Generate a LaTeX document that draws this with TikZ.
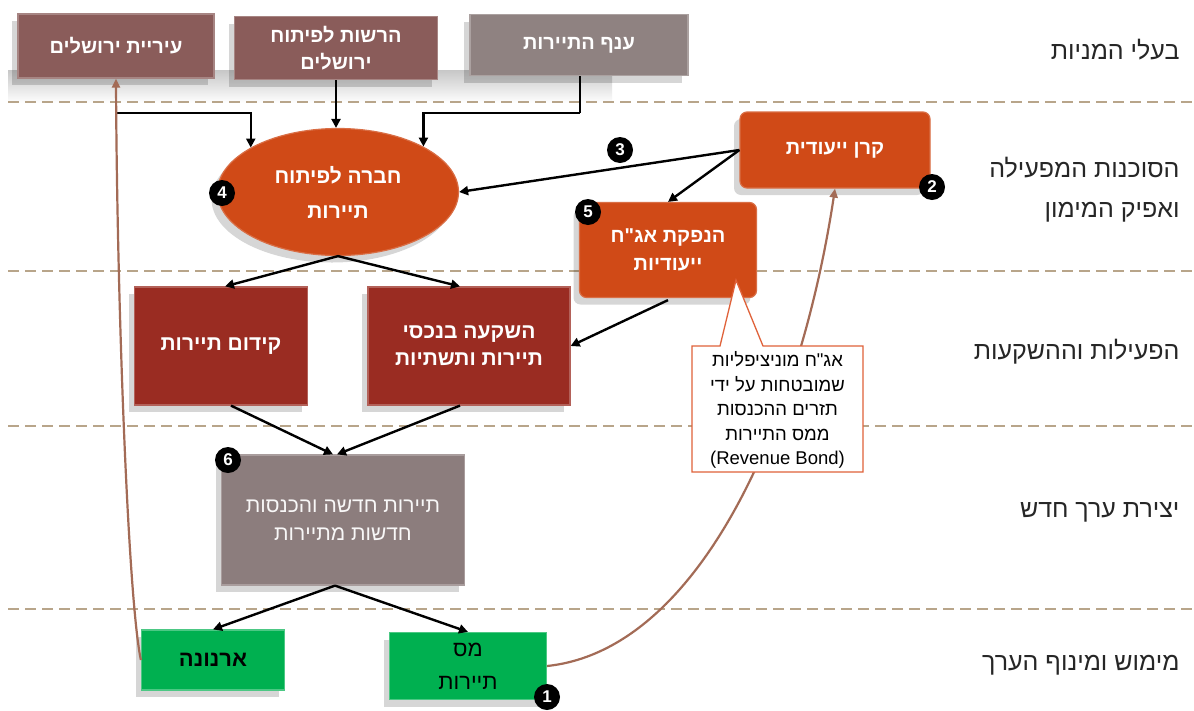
\documentclass[tikz,border=0pt]{standalone}
\usepackage{fontspec}
\setmainfont{Liberation Sans}
\newfontfamily\heb[Script=Hebrew]{Liberation Sans}
\TeXXeTstate=1
\usetikzlibrary{arrows.meta,shapes.geometric,shadows}
\newcommand\hb[1]{\beginR #1\endR}
\definecolor{cityc}{HTML}{8A5C5A}
\definecolor{anafc}{HTML}{8F8281}
\definecolor{orangec}{HTML}{D04A17}
\definecolor{redc}{HTML}{9A2C22}
\definecolor{grayc}{HTML}{8C7D7D}
\definecolor{greenc}{HTML}{00B050}
\definecolor{dashc}{HTML}{B8A58A}
\definecolor{brownc}{HTML}{A36B56}
\definecolor{calloutc}{HTML}{E0623A}
\tikzset{
  shad/.style={drop shadow={shadow xshift=-6pt,shadow yshift=-7pt,opacity=0.16,fill=black}},
  boxbase/.style={rectangle,inner sep=2pt,align=center,text=white,shad},
  topbox/.style={boxbase,fill=#1,draw=#1!75!white,line width=1.2pt,font=\heb\bfseries\fontsize{20}{27}\selectfont},
  orbox/.style={boxbase,fill=orangec,draw=orangec!80!white,line width=1.2pt,rounded corners=7pt,font=\heb\bfseries\fontsize{20}{28}\selectfont},
  redbox/.style={boxbase,fill=redc,draw=redc!75!white,line width=1.2pt,font=\heb\bfseries\fontsize{21}{27}\selectfont},
  graybox/.style={boxbase,fill=grayc,draw=grayc!75!white,line width=1.2pt,text=white!94!grayc,font=\heb\fontsize{21}{28}\selectfont},
  greenbox/.style={boxbase,fill=greenc,draw=greenc!70!white,line width=1.2pt,text=black},
  badge/.style={circle,fill=black,text=white,inner sep=0pt,minimum size=26pt,font=\heb\bfseries\fontsize{17}{17}\selectfont},
  lane/.style={anchor=east,align=right,font=\heb\fontsize{25}{40}\selectfont,text=black!85},
  sep/.style={dashc,line width=1.6pt,dash pattern=on 11pt off 6pt},
  arr/.style={line width=2.4pt,-{Triangle[length=9pt,width=9pt]}},
  barr/.style={brownc,line width=2.2pt,-{Triangle[length=9pt,width=8pt]}}
}
\begin{document}
\begin{tikzpicture}[x=1pt,y=-1pt]
\useasboundingbox (0,0) rectangle (1194,710);
\fill[white] (0,0) rectangle (1194,710);
\shade[top color=black!22,bottom color=white] (8,70) rectangle (612,103);
% lane separators
\foreach \yy in {102,271,426,609} \draw[sep] (8,\yy) -- (1194,\yy);
% lane labels
\node[lane] (l1) at (1183,50) {\hb{בעלי המניות}};
\node[lane] (l2) at (1183,190) {\hb{הסוכנות המפעילה}\\\hb{ואפיק המימון}};
\node[lane] (l3) at (1183,352) {\hb{הפעילות וההשקעות}};
\node[lane] (l4) at (1183,512) {\hb{יצירת ערך חדש}};
\node[lane] (l5) at (1183,665) {\hb{מימוש ומינוף הערך}};
% shareholders
\node[topbox=cityc,minimum width=196pt,minimum height=64pt] (city) at (116,46) {\hb{עיריית ירושלים}};
\node[topbox=cityc,minimum width=203pt,minimum height=63pt] (auth) at (336,48) {\hb{הרשות לפיתוח}\\\hb{ירושלים}};
\node[topbox=anafc,minimum width=218pt,minimum height=61pt] (anaf) at (579,45) {\hb{ענף התיירות}};
% operating agency
\node[ellipse,fill=orangec,draw=orangec!80!white,line width=1.2pt,shad,minimum width=241pt,minimum height=127pt,inner sep=0pt,align=center,text=white,font=\heb\bfseries\fontsize{21}{35}\selectfont] (ell) at (338,192) {\hb{חברה לפיתוח}\\\hb{תיירות}};
\node[orbox,minimum width=190pt,minimum height=76pt] (qeren) at (835,150) {\hb{קרן ייעודית}};
\node[orbox,minimum width=177pt,minimum height=95pt] (hanpaka) at (668,250) {\hb{הנפקת אג"ח}\\\hb{ייעודיות}};
% activities
\node[redbox,minimum width=173pt,minimum height=118pt] (kidum) at (221,346) {\hb{קידום תיירות}};
\node[redbox,minimum width=202pt,minimum height=118pt] (hashkaa) at (469,346) {\hb{השקעה בנכסי}\\\hb{תיירות ותשתיות}};
% new value
\node[graybox,minimum width=243pt,minimum height=130pt] (newtour) at (343,520) {\hb{תיירות חדשה והכנסות}\\\hb{חדשות מתיירות}};
% realization
\node[greenbox,minimum width=143pt,minimum height=60pt,font=\heb\bfseries\fontsize{22}{27}\selectfont] (arnona) at (213,660) {\hb{ארנונה}};
\node[greenbox,minimum width=157pt,minimum height=67pt,font=\heb\fontsize{22}{33}\selectfont] (mas) at (468,666) {\hb{מס}\\\hb{תיירות}};
% black connectors
\coordinate (cityj) at (117,113);
\coordinate (anafj) at (580,113);
\draw[arr] (cityj) -| (ell.153.7);
\draw[arr] (auth.south) -- (auth.south |- ell.north);
\draw[line width=2.4pt] (anaf.south -| anafj) -- (anafj);
\draw[arr] (anafj) -| (ell.28.4);
\draw[arr] (qeren.west) -- (ell.east);
\draw[arr] (qeren.west) -- (hanpaka.north);
\draw[arr] (ell.south) -- ([xshift=4pt]kidum.north);
\draw[arr] (ell.south) -- ([xshift=-9pt]hashkaa.north);
\draw[arr] ([yshift=-2pt]hanpaka.south) -- (hashkaa.east);
\draw[arr] ([xshift=10pt]kidum.south) -- ([xshift=-10pt]newtour.north);
\draw[arr] ([xshift=-9pt]hashkaa.south) -- ([xshift=-6pt]newtour.north);
\draw[arr] ([xshift=-8pt]newtour.south) -- (arnona.north);
\draw[arr] ([xshift=-8pt]newtour.south) -- (mas.north);
% brown flows
\draw[barr] (arnona.west) .. controls (128,600) and (117,300) .. (city.south);
\draw[barr] (mas.east) .. controls (700,650) and (800,420) .. (qeren.south);
% callout
\coordinate (cnw) at (692,346);
\coordinate (cse) at (863,472);
\coordinate (pl) at (720,346);
\coordinate (pr) at (763,346);
\coordinate (pa) at (736,280);
\draw[calloutc,fill=white,line width=1.3pt,line join=miter] (cnw) -- (pl) -- (pa) -- (pr) -- (cse |- cnw) -- (cse) -- (cnw |- cse) -- cycle;
\node[align=center,text=black,font=\heb\fontsize{18.5}{24.5}\selectfont] (callout) at (777.5,410) {\hb{אג"ח מוניציפליות}\\\hb{שמובטחות על ידי}\\\hb{תזרים ההכנסות}\\\hb{ממס התיירות}\\(Revenue Bond)};
% badges
\node[badge] (b1) at (547,697) {1};
\node[badge] (b2) at (932,187) {2};
\node[badge] (b3) at (620,150) {3};
\node[badge] (b4) at (222,193) {4};
\node[badge] (b5) at (588,212) {5};
\node[badge] (b6) at (228,460) {6};
\end{tikzpicture}
\end{document}
